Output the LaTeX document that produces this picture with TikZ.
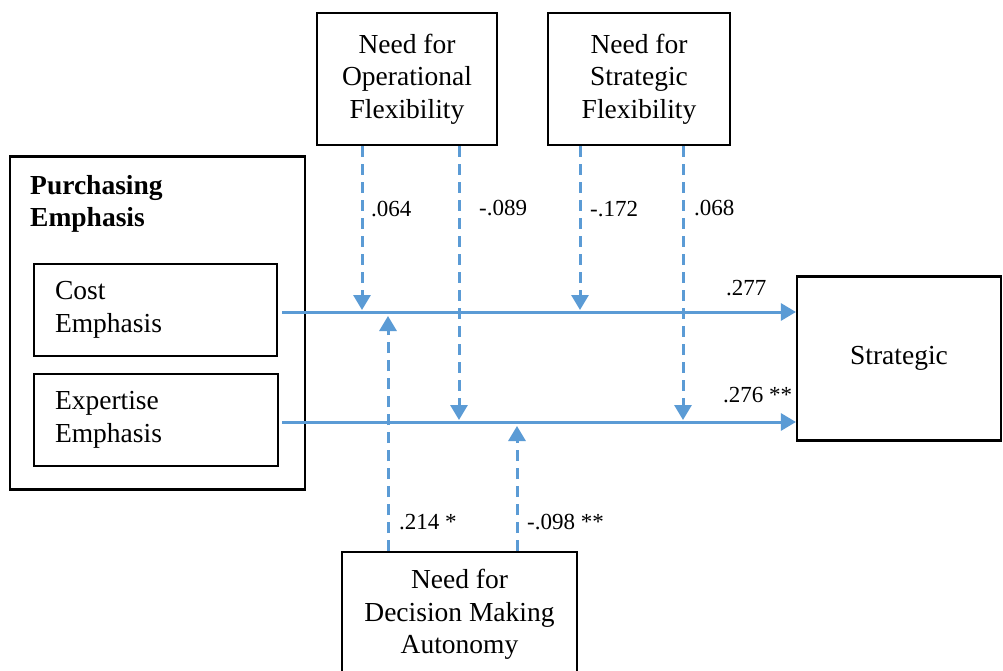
\documentclass[tikz,border=0pt]{standalone}
\usepackage{fontspec}
\setmainfont{Liberation Serif}
\usetikzlibrary{arrows.meta}
\definecolor{arr}{HTML}{5B9BD5}
\begin{document}
\begin{tikzpicture}[x=1pt,y=-1pt,
  box/.style={draw=black,line width=2.2pt,inner sep=0pt,align=center,font=\fontsize{27.5}{32.5}\selectfont},
  lbl/.style={inner sep=0pt,anchor=west,font=\fontsize{23}{26}\selectfont},
  mainarrow/.style={draw=arr,line width=3pt,-{Triangle[length=15pt,width=17pt]}},
  modarrow/.style={draw=arr,line width=3pt,dash pattern=on 11pt off 7pt,-{Triangle[length=15pt,width=17pt]}}]
\useasboundingbox (0,0) rectangle (1003,671);
\fill[white] (0,0) rectangle (1003,671);
% boxes
\node[box,minimum width=180pt,minimum height=132pt] (op) at (407,79) {Need for\\Operational\\Flexibility};
\node[box,minimum width=182pt,minimum height=132pt] (sf) at (639,79) {Need for\\Strategic\\Flexibility};
\node[box,minimum width=295pt,minimum height=333pt] (pe) at (157.5,323) {};
\node[inner sep=0pt,anchor=north west,align=left,font=\fontsize{27.5}{32.5}\selectfont\bfseries] (pet) at (30,175) {Purchasing\\Emphasis};
\node[box,minimum width=243pt,minimum height=92pt,align=left,text width=201pt] (ce) at (155.5,310) {Cost\\Emphasis};
\node[box,minimum width=244pt,minimum height=92pt,align=left,text width=202pt] (ee) at (156,420) {Expertise\\Emphasis};
\node[box,minimum width=204pt,minimum height=164pt] (st) at (899,358.5) {Strategic};
\node[box,minimum width=235pt,minimum height=140pt,anchor=north] (da) at (459.5,551) {};
\node[inner sep=0pt,anchor=north,align=center,font=\fontsize{27.5}{32.5}\selectfont] (dat) at (459.5,569) {Need for\\Decision Making\\Autonomy};
% main paths
\coordinate (c0) at (282,312);
\coordinate (e0) at (282,422);
\draw[mainarrow] (c0) -- (st.west |- c0);
\draw[mainarrow] (e0) -- (st.west |- e0);
% moderator positions
\coordinate (m1) at (362,310);
\coordinate (m2) at (459,420);
\coordinate (m3) at (580,310);
\coordinate (m4) at (683,420);
\coordinate (m5) at (388,316);
\coordinate (m6) at (517,426);
\draw[modarrow] (op.south -| m1) -- (m1);
\draw[modarrow] (op.south -| m2) -- (m2);
\draw[modarrow] (sf.south -| m3) -- (m3);
\draw[modarrow] (sf.south -| m4) -- (m4);
\draw[modarrow] (da.north -| m5) -- (m5);
\draw[modarrow] (da.north -| m6) -- (m6);
% labels
\node[lbl] (l1) at (371,209) {.064};
\node[lbl] (l2) at (479,208) {-.089};
\node[lbl] (l3) at (590,209) {-.172};
\node[lbl] (l4) at (694,208) {.068};
\node[lbl] (l5) at (399,522) {.214 *};
\node[lbl] (l6) at (527,522) {-.098 **};
\node[lbl] (l7) at (726,288) {.277};
\node[lbl] (l8) at (723,395) {.276 **};
\end{tikzpicture}
\end{document}
